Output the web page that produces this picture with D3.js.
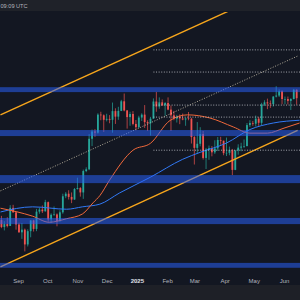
<!DOCTYPE html>
<html>
<head>
<meta charset="utf-8">
<script src="https://cdn.jsdelivr.net/npm/d3@7"></script>
<style>
    html, body { margin: 0; padding: 0; background: #131722; }
    svg { display: block; }
</style>
</head>
<body>
<svg id="chart" width="300" height="300"></svg>
<script>
// 3-day candles, prices in thousands of USD
const firstCandle = "2024-08-14";
const candleDays = 3;
const opens = [60.6, 58.7, 59.5, 59.0, 64.1, 62.8, 59.4, 57.3, 58.0, 54.2, 57.6, 60.5, 58.2, 63.0, 63.6, 63.1, 65.8, 60.8, 62.1, 62.2,
    60.3, 62.8, 67.6, 68.4, 67.4, 66.6, 69.9, 70.2, 68.8, 75.9, 76.5, 88.0, 91.0, 90.5, 98.3, 98.0, 96.0, 96.4, 96.0, 99.9,
    97.4, 100.0, 104.5, 100.2, 97.2, 98.6, 94.2, 92.8, 97.0, 98.3, 95.0, 94.5, 96.5, 104.4, 102.0, 104.0, 102.6, 103.7, 100.6, 98.0,
    96.5, 97.4, 96.6, 96.1, 96.6, 96.5, 88.7, 84.4, 86.0, 89.9, 80.6, 83.7, 84.3, 82.7, 84.2, 87.5, 87.2, 82.4, 82.5, 83.5,
    76.3, 83.4, 84.5, 84.9, 85.1, 93.7, 94.6, 94.3, 96.5, 94.7, 103.0, 104.0, 103.5, 103.2, 106.8, 107.3, 109.4, 105.6, 105.6, 104.7,
    105.6, 110.2];
const highs = [61.8, 60.3, 61.4, 64.9, 65.0, 63.2, 59.9, 59.8, 58.3, 58.1, 60.6, 60.7, 63.8, 64.1, 64.8, 66.5, 66.0, 62.5, 64.5, 62.5,
    63.4, 68.4, 68.9, 69.5, 68.8, 70.2, 73.6, 70.5, 76.4, 77.2, 89.9, 91.8, 92.0, 98.9, 99.6, 98.4, 98.7, 98.1, 103.9, 101.2,
    101.9, 105.2, 108.3, 100.4, 99.6, 99.9, 95.9, 97.8, 98.9, 102.7, 95.8, 97.3, 105.9, 109.1, 106.4, 105.4, 104.1, 106.4, 102.5, 100.0,
    98.2, 98.4, 98.8, 97.0, 99.5, 96.9, 89.2, 95.0, 92.8, 91.2, 84.4, 85.3, 85.1, 87.4, 88.7, 88.8, 87.3, 88.5, 84.9, 84.0,
    83.6, 85.8, 86.4, 87.7, 94.6, 95.8, 95.5, 97.9, 97.3, 103.8, 105.0, 105.8, 104.9, 107.0, 112.0, 110.4, 109.9, 106.8, 106.8, 106.0,
    110.6, 110.4];
const lows = [58.4, 57.8, 58.6, 59.0, 62.7, 58.0, 57.2, 55.6, 52.5, 53.7, 56.0, 57.5, 57.6, 62.4, 62.6, 63.0, 60.2, 59.8, 61.8, 58.9,
    60.2, 62.4, 67.0, 66.6, 65.5, 66.5, 69.7, 67.5, 66.8, 75.5, 76.2, 85.1, 88.8, 90.1, 95.8, 90.8, 95.3, 94.5, 90.5, 94.2,
    96.0, 99.9, 99.8, 92.2, 93.4, 93.6, 91.5, 92.5, 95.5, 92.5, 91.2, 89.3, 96.4, 99.6, 101.0, 102.3, 97.8, 100.3, 91.2, 95.8,
    94.8, 94.1, 95.8, 93.4, 95.8, 86.1, 78.2, 82.2, 85.0, 80.0, 76.6, 79.9, 81.2, 82.1, 83.2, 85.6, 81.6, 81.3, 81.6, 74.5,
    76.2, 81.8, 83.1, 84.4, 85.0, 92.9, 93.4, 93.1, 93.4, 93.4, 102.3, 100.8, 101.4, 102.0, 106.4, 106.6, 103.1, 103.1, 103.0, 100.4,
    105.4, 102.9];
const closes = [58.7, 59.5, 59.0, 64.1, 62.8, 59.4, 57.3, 58.0, 54.2, 57.6, 60.5, 58.2, 63.0, 63.6, 63.1, 65.8, 60.8, 62.1, 62.2, 60.3,
    62.8, 67.6, 68.4, 67.4, 66.6, 69.9, 70.2, 68.8, 75.9, 76.5, 88.0, 91.0, 90.5, 98.3, 98.0, 96.0, 96.4, 96.0, 99.9, 97.4,
    100.0, 104.5, 100.2, 97.2, 98.6, 94.2, 92.8, 97.0, 98.3, 95.0, 94.5, 96.5, 104.4, 102.0, 104.0, 102.6, 103.7, 100.6, 98.0, 96.5,
    97.4, 96.6, 96.1, 96.6, 96.5, 88.7, 84.4, 86.0, 89.9, 80.6, 83.7, 84.3, 82.7, 84.2, 87.5, 87.2, 82.4, 82.5, 83.5, 76.3,
    83.4, 84.5, 84.9, 85.1, 93.7, 94.6, 94.3, 96.5, 94.7, 103.0, 104.0, 103.5, 103.2, 106.8, 107.3, 109.4, 105.6, 105.6, 104.7, 105.6,
    110.2, 106.0];

// moving averages
const maDates = ["2024-08-14", "2024-09-16", "2024-10-03", "2024-10-21", "2024-11-06", "2024-11-17", "2024-11-24", "2024-12-04",
    "2024-12-28", "2025-01-15", "2025-02-04", "2025-02-22", "2025-03-17", "2025-04-10", "2025-04-27", "2025-05-15", "2025-06-01", "2025-06-17"];
const maFast = [64.0, 61.7, 60.0, 61.0, 62.3, 65.6, 67.8, 72.8, 83.5, 86.2, 95.7, 98.2, 96.8, 92.9, 90.3, 90.3, 92.4, 94.6];
const maSlowDates = ["2024-08-14", "2024-09-16", "2024-10-21", "2024-11-06", "2024-11-24", "2024-12-14", "2025-01-15", "2025-02-17",
    "2025-03-07", "2025-04-03", "2025-04-27", "2025-05-21", "2025-06-17"];
const maSlow = [62.9, 64.4, 63.7, 64.4, 65.2, 68.6, 73.8, 80.1, 82.7, 86.3, 91.8, 94.6, 95.8];

// drawn zones, levels and channel
const zones = [[109.0, 111.5], [89.1, 91.6], [71.8, 74.5], [59.5, 61.2], [48.7, 49.8]];
const levels = [132.3, 119.5, 102.7, 97.2, 83.5];
const levelsFrom = "2025-01-18";
const channelDates = ["2024-08-14", "2025-06-15"];
const channelUpper = [98.2, 182.6];
const channelMid = [69.3, 128.6];
const channelLower = [48.9, 91.5];

const monthTicks = ["2024-09-01", "2024-10-01", "2024-11-01", "2024-12-01", "2025-01-01",
    "2025-02-01", "2025-03-01", "2025-04-01", "2025-05-01", "2025-06-01"];
const monthLabels = ["Sep", "Oct", "Nov", "Dec", "2025", "Feb", "Mar", "Apr", "May", "Jun"];

const parse = d3.utcParse("%Y-%m-%d");
const width = 300, height = 300;
const paneTop = 12, paneBottom = 272;

const svg = d3.select("#chart");

const x = d3.scaleUtc()
    .domain([parse("2024-09-01"), parse("2025-06-01")])
    .range([18, 284]);
const y = d3.scaleLog()
    .domain([45, 157.4])
    .range([285, 12]);

// background pieces
svg.append("rect").attr("width", width).attr("height", height).attr("fill", "#131722");
svg.append("rect").attr("width", width).attr("height", 11).attr("fill", "#1f2229");
svg.append("rect").attr("y", 285).attr("width", width).attr("height", 15).attr("fill", "#1e2027");

svg.append("text")
    .attr("x", 0.5).attr("y", 8)
    .attr("fill", "#b2b5be")
    .attr("font-family", "Liberation Sans, Arial, sans-serif")
    .attr("font-size", 5.6)
    .text("09:09 UTC");

svg.append("clipPath").attr("id", "pane")
    .append("rect").attr("x", 0).attr("y", paneTop).attr("width", width).attr("height", paneBottom - paneTop);

const g = svg.append("g").attr("clip-path", "url(#pane)");

// candles
const start = parse(firstCandle);
const candles = closes.map((c, i) => ({
    date: d3.utcDay.offset(start, i * candleDays + 1),
    o: opens[i], h: highs[i], l: lows[i], c
}));

const candle = g.append("g").selectAll("g")
    .data(candles)
    .join("g")
    .attr("stroke", d => d.c >= d.o ? "#26a69a" : "#ef5350")
    .attr("fill", d => d.c >= d.o ? "#26a69a" : "#ef5350");

candle.append("line")
    .attr("x1", d => x(d.date)).attr("x2", d => x(d.date))
    .attr("y1", d => y(d.h)).attr("y2", d => y(d.l))
    .attr("stroke-width", 0.7);

candle.append("rect")
    .attr("stroke", "none")
    .attr("x", d => x(d.date) - 0.9)
    .attr("width", 1.8)
    .attr("y", d => y(Math.max(d.o, d.c)))
    .attr("height", d => Math.max(0.6, Math.abs(y(d.o) - y(d.c))));

// moving averages
const maLine = d3.line()
    .x(d => x(d[0]))
    .y(d => y(d[1]))
    .curve(d3.curveMonotoneX);

g.append("path")
    .datum(maSlowDates.map((d, i) => [parse(d), maSlow[i]]))
    .attr("d", maLine)
    .attr("fill", "none")
    .attr("stroke", "#3179f5")
    .attr("stroke-width", 1);

g.append("path")
    .datum(maDates.map((d, i) => [parse(d), maFast[i]]))
    .attr("d", maLine)
    .attr("fill", "none")
    .attr("stroke", "#f0683a")
    .attr("stroke-width", 1);

// channel
const straight = d3.line().x(d => x(d[0])).y(d => y(d[1]));
const chDates = channelDates.map(parse);

[[channelUpper, "#f7a61c", 1.4, null], [channelLower, "#f7a61c", 1.4, null], [channelMid, "#d9cfb6", 0.8, "1,1.6"]]
    .forEach(([vals, color, w, dash]) => {
        g.append("path")
            .datum(chDates.map((d, i) => [d, vals[i]]))
            .attr("d", straight)
            .attr("fill", "none")
            .attr("stroke", color)
            .attr("stroke-width", w)
            .attr("stroke-dasharray", dash);
    });

// horizontal levels
g.append("g").selectAll("line")
    .data(levels)
    .join("line")
    .attr("x1", x(parse(levelsFrom))).attr("x2", width)
    .attr("y1", d => y(d)).attr("y2", d => y(d))
    .attr("stroke", "#c8cad0")
    .attr("stroke-width", 0.8)
    .attr("stroke-dasharray", "1,1.6");

// zones on top, see-through
g.append("g").selectAll("rect")
    .data(zones)
    .join("rect")
    .attr("x", 0).attr("width", width)
    .attr("y", d => y(d[1]))
    .attr("height", d => y(d[0]) - y(d[1]))
    .attr("fill", "#2962ff")
    .attr("fill-opacity", 0.52);

// time axis
const axis = d3.axisBottom(x)
    .tickValues(monthTicks.map(parse))
    .tickSize(0)
    .tickFormat((d, i) => monthLabels[i]);

const ax = svg.append("g")
    .attr("transform", `translate(0,${paneBottom + 4})`)
    .call(axis);
ax.select(".domain").remove();
ax.selectAll("text")
    .attr("fill", "#b2b5be")
    .attr("font-family", "Liberation Sans, Arial, sans-serif")
    .attr("font-size", 6)
    .attr("font-weight", (d, i) => monthLabels[i] === "2025" ? "bold" : null)
    .attr("fill", (d, i) => monthLabels[i] === "2025" ? "#e0e3eb" : "#b2b5be");
</script>
</body>
</html>
